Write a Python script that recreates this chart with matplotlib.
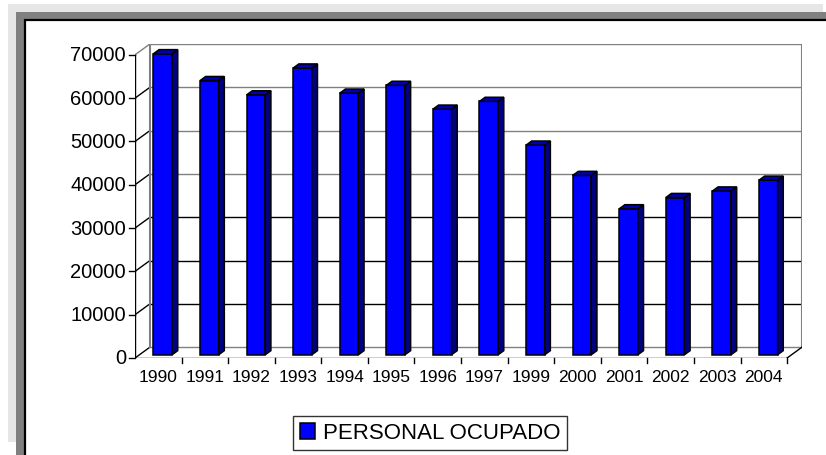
import matplotlib.pyplot as plt
from matplotlib.patches import Rectangle, Polygon
import numpy as np

years = ['1990', '1991', '1992', '1993', '1994', '1995', '1996', '1997',
         '1999', '2000', '2001', '2002', '2003', '2004']
personal = [69500, 63300, 60000, 66200, 60400, 62200, 56700, 58500,
            48400, 41400, 33700, 36300, 37800, 40300]
yticks = [0, 10000, 20000, 30000, 40000, 50000, 60000, 70000]

plt.rcParams['font.family'] = ['Liberation Sans', 'DejaVu Sans']

W, H = 826, 456
fig = plt.figure(figsize=(W / 100, H / 100), dpi=100)
fig.patch.set_facecolor('white')


# frame drawn in pixel coords, origin top-left
def px_rect(x0, y0, x1, y1, **kw):
    fig.patches.append(Rectangle((x0 / W, 1 - y1 / H), (x1 - x0) / W, (y1 - y0) / H,
                                 transform=fig.transFigure, zorder=-5, **kw))


px_rect(8, 5, 823, 443, facecolor='#e6e6e6', edgecolor='none')
px_rect(16, 13, 850, 480, facecolor='#808080', edgecolor='none')
px_rect(25, 21, 850, 480, facecolor='white', edgecolor='black', linewidth=1.6)

left, right, top, bottom = 135, 802, 45, 359
ax = fig.add_axes([left / W, 1 - bottom / H, (right - left) / W, (bottom - top) / H])
ax.axis('off')

n = len(years)
ymax = yticks[-1]
dx, dy = 0.32, 2500  # depth of the 3d box
ax.set_xlim(0, n + dx)
ax.set_ylim(0, ymax + dy)
px_x = (n + dx) / (right - left)
px_y = (ymax + dy) / (bottom - top)

grey = '#808080'

# walls + gridlines
for v in yticks:
    c = 'black' if 0 < v < 40000 else grey
    ax.plot([dx, n + dx], [v + dy, v + dy], color=c, lw=1, zorder=1)
    ax.plot([0, dx], [v, v + dy], color='black' if v < ymax else grey, lw=1, zorder=1)
    ax.plot([0, -6 * px_x], [v, v], color='black', lw=1, clip_on=False)
    ax.annotate(str(v), (0, v), xytext=(-9, 0), textcoords='offset pixels',
                ha='right', va='center', fontsize=14.5, annotation_clip=False)

ax.plot([dx, dx], [dy, ymax + dy], color=grey, lw=1.5, zorder=1)
ax.plot([n + dx, n + dx], [dy, ymax + dy], color=grey, lw=1.5, zorder=1)
ax.plot([0, 0], [0, ymax], color='black', lw=1, zorder=2)
ax.plot([0, n], [0, 0], color='black', lw=1, zorder=2)
ax.plot([n, n + dx], [0, dy], color='black', lw=1, zorder=2)

for i in range(1, n + 1):
    ax.plot([i, i], [0, -5 * px_y], color='black', lw=1, clip_on=False)
for i, yr in enumerate(years):
    ax.annotate(yr, (i + 0.5, 0), xytext=(0, -19), textcoords='offset pixels',
                ha='center', va='center', fontsize=12.5, annotation_clip=False)

# bars: front face via ax.bar, side and top as polygons
f, depth, bw = 0.3, 0.38, 0.40
xs = np.arange(n) + 0.5 + f * dx
base = f * dy
bars = ax.bar(xs, personal, width=bw, bottom=base, color='#0000ff',
              edgecolor='black', linewidth=1.1, zorder=3, label='PERSONAL OCUPADO')
ddx, ddy = depth * dx, depth * dy
for x, v in zip(xs, personal):
    x0, x1, h = x - bw / 2, x + bw / 2, base + v
    side = Polygon([(x1, base), (x1, h), (x1 + ddx, h + ddy), (x1 + ddx, base + ddy)],
                   closed=True, facecolor='#000080', edgecolor='black', lw=1.1, zorder=3)
    cap = Polygon([(x0, h), (x1, h), (x1 + ddx, h + ddy), (x0 + ddx, h + ddy)],
                  closed=True, facecolor='#0000b0', edgecolor='black', lw=1.1, zorder=3)
    ax.add_patch(side)
    ax.add_patch(cap)

leg = fig.legend(handles=[bars], loc='center', bbox_to_anchor=(430 / W, 1 - 434 / H),
                 fontsize=16, frameon=True, fancybox=False, edgecolor='black',
                 handlelength=0.7, handleheight=0.7, handletextpad=0.35,
                 borderpad=0.3, borderaxespad=0)
leg.get_frame().set_linewidth(1)

fig.savefig('out.png', dpi=100)
